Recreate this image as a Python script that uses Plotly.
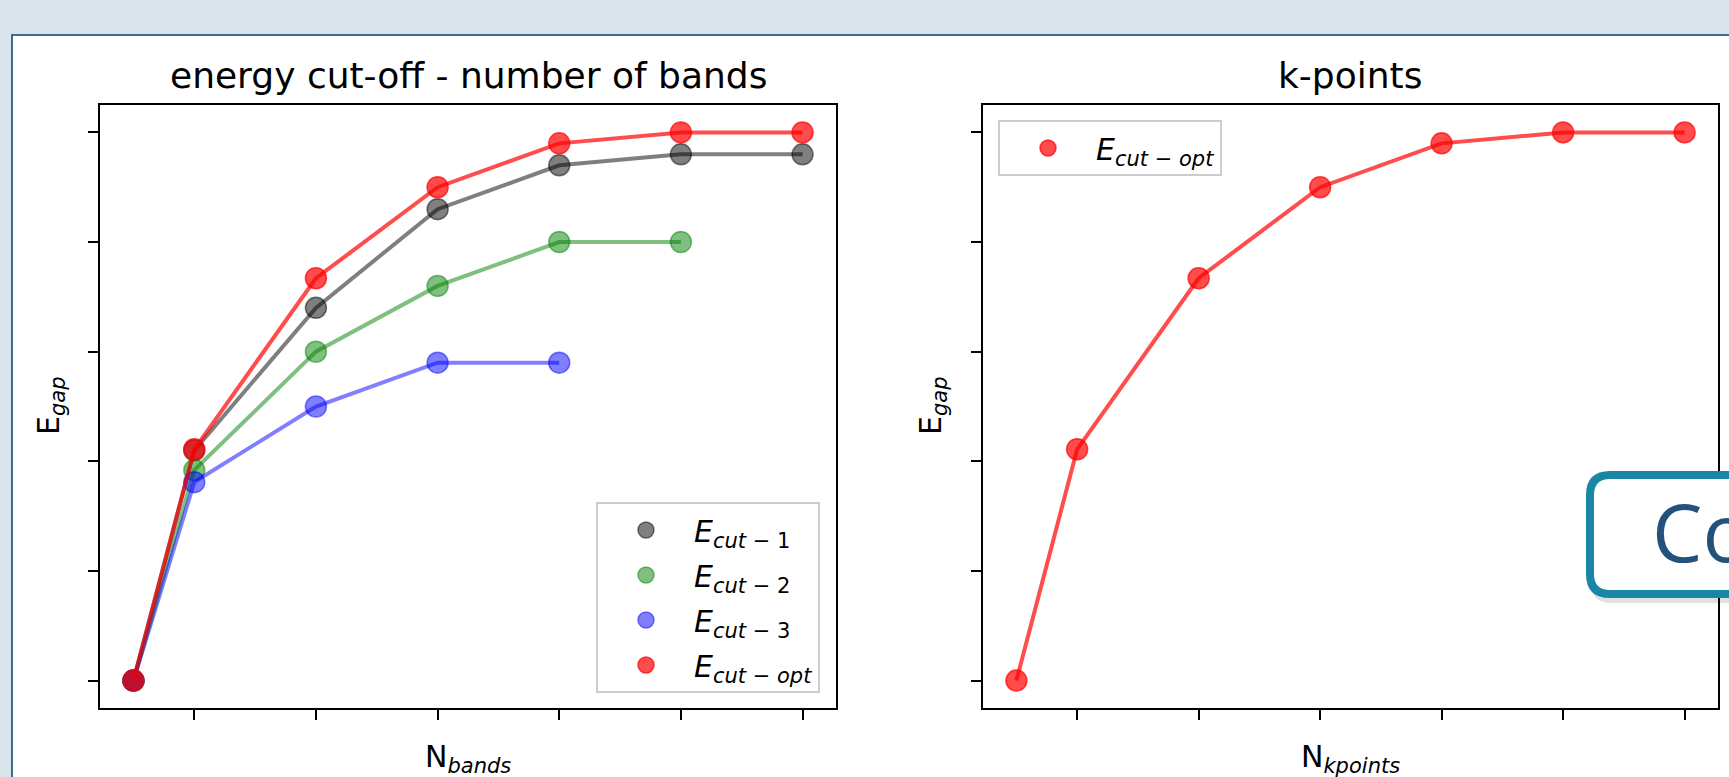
import plotly.graph_objects as go

# ---------------- data ----------------
x_bands = [0.5, 1, 2, 3, 4, 5, 6]
e_cut1 = [0.0, 2.1, 3.4, 4.3, 4.7, 4.8, 4.8]
e_cut2 = [0.0, 1.92, 3.0, 3.6, 4.0, 4.0]
e_cut3 = [0.0, 1.81, 2.5, 2.9, 2.9]
e_cutopt = [0.0, 2.11, 3.67, 4.5, 4.9, 5.0, 5.0]

x_kpoints = [0.5, 1, 2, 3, 4, 5, 6]
e_kpoints = [0.0, 2.11, 3.67, 4.5, 4.9, 5.0, 5.0]

x_ticks = [1, 2, 3, 4, 5, 6]
y_ticks = [0, 1, 2, 3, 4, 5]

title_left = "energy cut-off - number of bands"
title_right = "k-points"
names = ["<i>E</i><sub><i>cut</i> − 1</sub>",
         "<i>E</i><sub><i>cut</i> − 2</sub>",
         "<i>E</i><sub><i>cut</i> − 3</sub>",
         "<i>E</i><sub><i>cut</i> − <i>opt</i></sub>"]

# ---------------- layout helpers ----------------
W, H = 1729, 777
FONT = "DejaVu Sans"


def px(x):
    return x / W


def py(y):
    return 1 - y / H


def rrect(x0, y0, x1, y1, r):
    """rounded rectangle path in paper coords from pixel coords"""
    pts = [
        f"M {px(x0 + r)},{py(y0)}",
        f"L {px(x1 - r)},{py(y0)}",
        f"Q {px(x1)},{py(y0)} {px(x1)},{py(y0 + r)}",
        f"L {px(x1)},{py(y1 - r)}",
        f"Q {px(x1)},{py(y1)} {px(x1 - r)},{py(y1)}",
        f"L {px(x0 + r)},{py(y1)}",
        f"Q {px(x0)},{py(y1)} {px(x0)},{py(y1 - r)}",
        f"L {px(x0)},{py(y0 + r)}",
        f"Q {px(x0)},{py(y0)} {px(x0 + r)},{py(y0)}",
        "Z",
    ]
    return " ".join(pts)


fig = go.Figure()


def add_series(xs, ys, rgb, alpha, name, xa, ya, leg):
    col = f"rgba({rgb[0]},{rgb[1]},{rgb[2]},{alpha})"
    xs = xs[:len(ys)]
    fig.add_trace(go.Scatter(
        x=xs, y=ys, mode="lines", showlegend=False, hoverinfo="skip",
        line=dict(color=col, width=4), xaxis=xa, yaxis=ya,
    ))
    fig.add_trace(go.Scatter(
        x=xs, y=ys, mode="markers", name=name,
        marker=dict(size=21, color=col, line=dict(color=col, width=1.5)),
        xaxis=xa, yaxis=ya, legend=leg, legendgroup=name + leg,
    ))


series = [
    (x_bands, e_cut1, (0, 0, 0), 0.5, names[0]),
    (x_bands, e_cut2, (0, 128, 0), 0.5, names[1]),
    (x_bands, e_cut3, (0, 0, 255), 0.5, names[2]),
    (x_bands, e_cutopt, (255, 0, 0), 0.7, names[3]),
]
for xs, ys, c, a, nm in series:
    add_series(xs, ys, c, a, nm, "x", "y", "legend")

add_series(x_kpoints, e_kpoints, (255, 0, 0), 0.7, names[3], "x2", "y2", "legend2")

axis_common = dict(
    showticklabels=False, ticks="outside", ticklen=10, tickwidth=2,
    tickcolor="black", showline=True, linecolor="black", linewidth=2,
    mirror=True, showgrid=False, zeroline=False, fixedrange=True,
)
ydom = [py(708), py(105)]

legend_common = dict(
    bgcolor="rgba(255,255,255,0.8)", bordercolor="#cccccc", borderwidth=2,
    font=dict(family=FONT, size=30), itemwidth=86, tracegroupgap=3,
)

fig.update_layout(
    width=W, height=H, autosize=False,
    margin=dict(l=0, r=0, t=0, b=0, pad=0),
    paper_bgcolor="#d9e4eb", plot_bgcolor="white",
    font=dict(family=FONT, size=30, color="black"),
    xaxis=dict(domain=[px(100), px(836)], range=[0.225, 6.275],
               tickvals=x_ticks, anchor="y", **axis_common),
    yaxis=dict(domain=ydom, range=[-0.25, 5.25], tickvals=y_ticks,
               anchor="x", **axis_common),
    xaxis2=dict(domain=[px(983), px(1718)], range=[0.225, 6.275],
                tickvals=x_ticks, anchor="y2", **axis_common),
    yaxis2=dict(domain=ydom, range=[-0.25, 5.25], tickvals=y_ticks,
                anchor="x2", **axis_common),
    legend=dict(x=px(820), y=py(693), xanchor="right", yanchor="bottom",
                **legend_common),
    legend2=dict(x=px(998), y=py(120), xanchor="left", yanchor="top",
                 **legend_common),
    showlegend=True,
)

shapes = [
    # white page panel with border
    dict(type="rect", xref="paper", yref="paper", layer="below",
         x0=px(12), x1=px(1760), y0=py(35), y1=py(800),
         fillcolor="white", line=dict(color="#3d6a94", width=2)),
    # button shadow
    dict(type="path", xref="paper", yref="paper", layer="above",
         path=rrect(1590, 480, 1800, 603, 22),
         fillcolor="rgba(0,0,0,0.12)", line=dict(width=0)),
    # button
    dict(type="path", xref="paper", yref="paper", layer="above",
         path=rrect(1590, 475, 1800, 594, 20),
         fillcolor="white", line=dict(color="#1a86a6", width=8)),
]

annotations = [
    dict(text=title_left, x=px(468), y=py(75), xref="paper", yref="paper",
         showarrow=False, xanchor="center", yanchor="middle",
         font=dict(family=FONT, size=36)),
    dict(text=title_right, x=px(1350), y=py(75), xref="paper", yref="paper",
         showarrow=False, xanchor="center", yanchor="middle",
         font=dict(family=FONT, size=36)),
    dict(text="N<sub><i>bands</i></sub>", x=px(468), y=py(758),
         xref="paper", yref="paper", showarrow=False, xanchor="center",
         yanchor="middle", font=dict(family=FONT, size=30)),
    dict(text="N<sub><i>kpoints</i></sub>", x=px(1350), y=py(758),
         xref="paper", yref="paper", showarrow=False, xanchor="center",
         yanchor="middle", font=dict(family=FONT, size=30)),
    dict(text="E<sub><i>gap</i></sub>", x=px(50), y=py(406),
         xref="paper", yref="paper", showarrow=False, xanchor="center",
         yanchor="middle", textangle=-90, font=dict(family=FONT, size=30)),
    dict(text="E<sub><i>gap</i></sub>", x=px(932), y=py(406),
         xref="paper", yref="paper", showarrow=False, xanchor="center",
         yanchor="middle", textangle=-90, font=dict(family=FONT, size=30)),
    dict(text="Co", x=px(1650), y=py(530), xref="paper", yref="paper",
         showarrow=False, xanchor="left", yanchor="middle",
         font=dict(family="Liberation Sans Narrow, Open Sans", size=80,
                   color="#24527d")),
]
fig.update_layout(shapes=shapes, annotations=annotations)

fig.write_html(
    "out.html",
    config={"displayModeBar": False},
    post_script="document.body.style.margin='0';document.body.style.overflow='hidden';",
)
